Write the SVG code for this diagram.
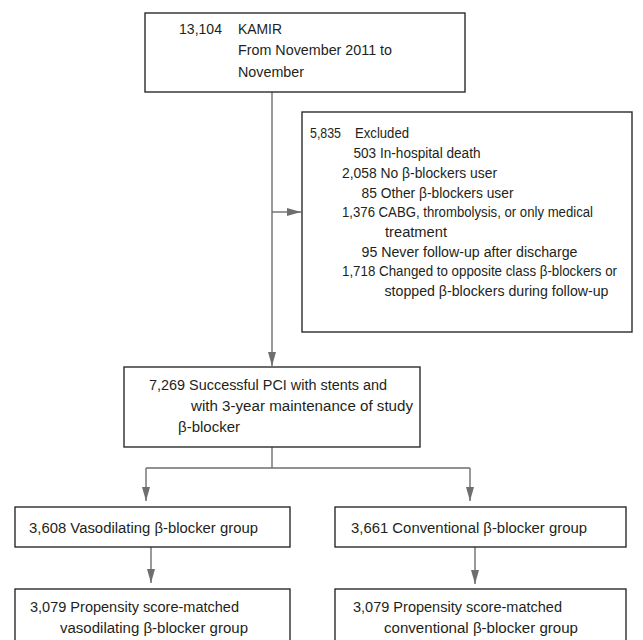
<svg xmlns="http://www.w3.org/2000/svg" width="643" height="640" viewBox="0 0 643 640">
<defs>
<style>
.box{fill:#fff;stroke:#2b2b2b;stroke-width:1.4}
.t{font-family:"Liberation Sans",Arial,sans-serif;font-size:15.5px;fill:#231f20}
.c{fill:none;stroke:#6e6e6e;stroke-width:1.4}
</style>
<marker id="ah" viewBox="0 0 14 8" markerWidth="14" markerHeight="8" refX="14" refY="4" orient="auto" markerUnits="userSpaceOnUse">
<path d="M0,0 L14,4 L0,8 z" fill="#6e6e6e"/>
</marker>
</defs>
<rect width="643" height="640" fill="#fff"/>
<g id="connectors">
<line class="c" x1="272" y1="92" x2="272" y2="366" marker-end="url(#ah)"/>
<line class="c" x1="272" y1="212" x2="301" y2="212" marker-end="url(#ah)"/>
<polyline class="c" points="272,447 272,468"/>
<polyline class="c" points="146,468 470,468"/>
<line class="c" x1="146" y1="468" x2="146" y2="501" marker-end="url(#ah)"/>
<line class="c" x1="470" y1="468" x2="470" y2="501" marker-end="url(#ah)"/>
<line class="c" x1="151" y1="547" x2="151" y2="583" marker-end="url(#ah)"/>
<line class="c" x1="475" y1="547" x2="475" y2="584" marker-end="url(#ah)"/>
</g>
<g id="n_kamir">
<rect class="box" x="145" y="13" width="320" height="79"/>
<text class="t" x="179" y="34" textLength="43" lengthAdjust="spacingAndGlyphs">13,104</text>
<text class="t" x="238" y="34" textLength="44" lengthAdjust="spacingAndGlyphs">KAMIR</text>
<text class="t" x="238" y="55" textLength="154" lengthAdjust="spacingAndGlyphs">From November 2011 to</text>
<text class="t" x="238" y="77" textLength="66" lengthAdjust="spacingAndGlyphs">November</text>
</g>
<g id="n_excluded">
<rect class="box" x="302" y="112" width="330" height="220"/>
<text class="t" x="310" y="138" textLength="31" lengthAdjust="spacingAndGlyphs">5,835</text>
<text class="t" x="355" y="138" textLength="54" lengthAdjust="spacingAndGlyphs">Excluded</text>
<text class="t" x="353.5" y="158" textLength="127" lengthAdjust="spacingAndGlyphs">503 In-hospital death</text>
<text class="t" x="342" y="178" textLength="155" lengthAdjust="spacingAndGlyphs">2,058 No β-blockers user</text>
<text class="t" x="361.5" y="198" textLength="152" lengthAdjust="spacingAndGlyphs">85 Other β-blockers user</text>
<text class="t" x="342" y="217" textLength="251" lengthAdjust="spacingAndGlyphs">1,376 CABG, thrombolysis, or only medical</text>
<text class="t" x="385" y="237" textLength="62" lengthAdjust="spacingAndGlyphs">treatment</text>
<text class="t" x="361.5" y="257" textLength="216" lengthAdjust="spacingAndGlyphs">95 Never follow-up after discharge</text>
<text class="t" x="342" y="276" textLength="275" lengthAdjust="spacingAndGlyphs">1,718 Changed to opposite class β-blockers or</text>
<text class="t" x="384.5" y="296" textLength="224" lengthAdjust="spacingAndGlyphs">stopped β-blockers during follow-up</text>
</g>
<g id="n_pci">
<rect class="box" x="124" y="367" width="296" height="80"/>
<text class="t" x="149" y="390" textLength="238" lengthAdjust="spacingAndGlyphs">7,269 Successful PCI with stents and</text>
<text class="t" x="191" y="411" textLength="222" lengthAdjust="spacingAndGlyphs">with 3-year maintenance of study</text>
<text class="t" x="178" y="432" textLength="62" lengthAdjust="spacingAndGlyphs">β-blocker</text>
</g>
<g id="n_vaso">
<rect class="box" x="15" y="507" width="275" height="40"/>
<text class="t" x="29" y="533" textLength="229" lengthAdjust="spacingAndGlyphs">3,608 Vasodilating β-blocker group</text>
</g>
<g id="n_conv">
<rect class="box" x="335" y="507" width="291" height="40"/>
<text class="t" x="351" y="533" textLength="236" lengthAdjust="spacingAndGlyphs">3,661 Conventional β-blocker group</text>
</g>
<g id="n_vaso_psm">
<rect class="box" x="15" y="589" width="275" height="70"/>
<text class="t" x="30" y="612" textLength="209" lengthAdjust="spacingAndGlyphs">3,079 Propensity score-matched</text>
<text class="t" x="60" y="633" textLength="188" lengthAdjust="spacingAndGlyphs">vasodilating β-blocker group</text>
</g>
<g id="n_conv_psm">
<rect class="box" x="335" y="589" width="291" height="70"/>
<text class="t" x="353" y="612" textLength="209" lengthAdjust="spacingAndGlyphs">3,079 Propensity score-matched</text>
<text class="t" x="384" y="633" textLength="194" lengthAdjust="spacingAndGlyphs">conventional β-blocker group</text>
</g>
</svg>
